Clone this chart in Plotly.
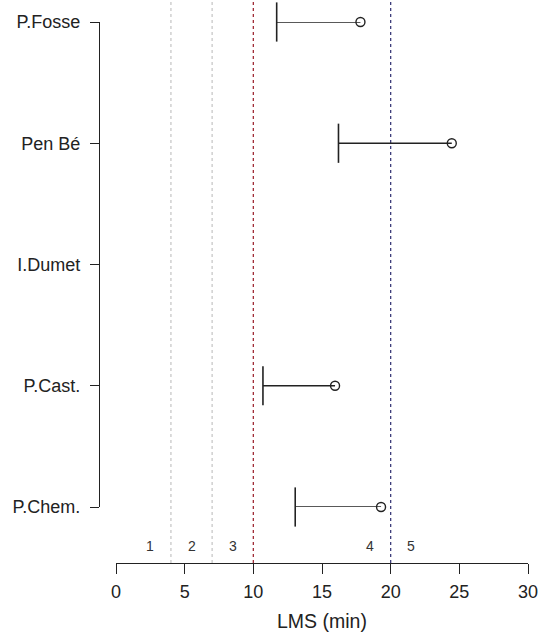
import plotly.graph_objects as go

# ---- data ----
sites = ["P.Fosse", "Pen Bé", "I.Dumet", "P.Cast.", "P.Chem."]
lms_point = [17.8, 24.45, None, 15.95, 19.3]
lms_lower = [11.7, 16.2, None, 10.7, 13.05]
x_ticks = [0, 5, 10, 15, 20, 25, 30]
zone_lines = [4, 7, 10, 20]
zone_line_colors = ["#c8c8c8", "#c8c8c8", "#a02a35", "#3c3c7a"]
zone_labels = ["1", "2", "3", "4", "5"]
zone_label_x = [2.5, 5.5, 8.5, 18.5, 21.5]

W, H = 551, 634
FONT = "Liberation Sans, Arial, sans-serif"
INK = "#222222"

n = len(sites)
ypos = [n - 1 - i for i in range(n)]

def py(pix):
    return (H - pix) / H

def px(pix):
    return pix / W

fig = go.Figure()

# error bar lines
lx, ly = [], []
for p, lo, y in zip(lms_point, lms_lower, ypos):
    if p is None:
        continue
    lx += [lo, p, None]
    ly += [y, y, None]
fig.add_trace(go.Scatter(x=lx, y=ly, mode="lines", cliponaxis=False,
                         line=dict(color=INK, width=1.4), hoverinfo="skip"))

# caps
cx = [lo for lo in lms_lower if lo is not None]
cy = [y for lo, y in zip(lms_lower, ypos) if lo is not None]
fig.add_trace(go.Scatter(x=cx, y=cy, mode="markers", cliponaxis=False,
                         marker=dict(symbol="line-ns-open", size=28, color=INK,
                                     line=dict(color=INK, width=1.6))))

# points
ptx = [p for p in lms_point if p is not None]
pty = [y for p, y in zip(lms_point, ypos) if p is not None]
fig.add_trace(go.Scatter(x=ptx, y=pty, mode="markers", cliponaxis=False,
                         marker=dict(symbol="circle-open", size=9, color=INK,
                                     line=dict(color=INK, width=1.4))))

# vertical zone lines
for xv, col in zip(zone_lines, zone_line_colors):
    fig.add_shape(type="line", xref="x", yref="paper", x0=xv, x1=xv,
                  y0=py(563), y1=1.0,
                  line=dict(color=col, width=1.3, dash="dot"), layer="below")

# zone labels
for lab, xv in zip(zone_labels, zone_label_x):
    fig.add_annotation(x=xv, xref="x", y=py(546), yref="paper", text=lab,
                       showarrow=False, font=dict(family=FONT, size=14, color="#333333"),
                       xanchor="center", yanchor="middle")

# x title
fig.add_annotation(x=15, xref="x", y=py(621), yref="paper", text="LMS (min)",
                   showarrow=False, font=dict(family=FONT, size=19.5, color=INK),
                   xanchor="center", yanchor="middle")

fig.update_layout(
    width=W, height=H,
    margin=dict(l=0, r=0, t=0, b=0),
    paper_bgcolor="white", plot_bgcolor="white",
    showlegend=False,
    font=dict(family=FONT, size=18, color=INK),
    xaxis=dict(domain=[px(116), px(528)], range=[0, 30], anchor="free",
               position=py(563), showgrid=False, zeroline=False,
               showline=True, linecolor=INK, linewidth=1.4,
               ticks="outside", ticklen=10, tickwidth=1.4, tickcolor=INK,
               tickvals=x_ticks, ticktext=[str(v) for v in x_ticks],
               ticklabelstandoff=2,
               tickfont=dict(family=FONT, size=18, color=INK), automargin=False),
    yaxis=dict(domain=[py(507), py(22)], range=[0, n - 1], anchor="free",
               position=px(99), showgrid=False, zeroline=False,
               showline=True, linecolor=INK, linewidth=1.4,
               ticks="outside", ticklen=9, tickwidth=1.4, tickcolor=INK,
               tickvals=ypos, ticktext=sites, ticklabelstandoff=6,
               tickfont=dict(family=FONT, size=18, color=INK), automargin=False),
)

fig.write_html("out.html")
